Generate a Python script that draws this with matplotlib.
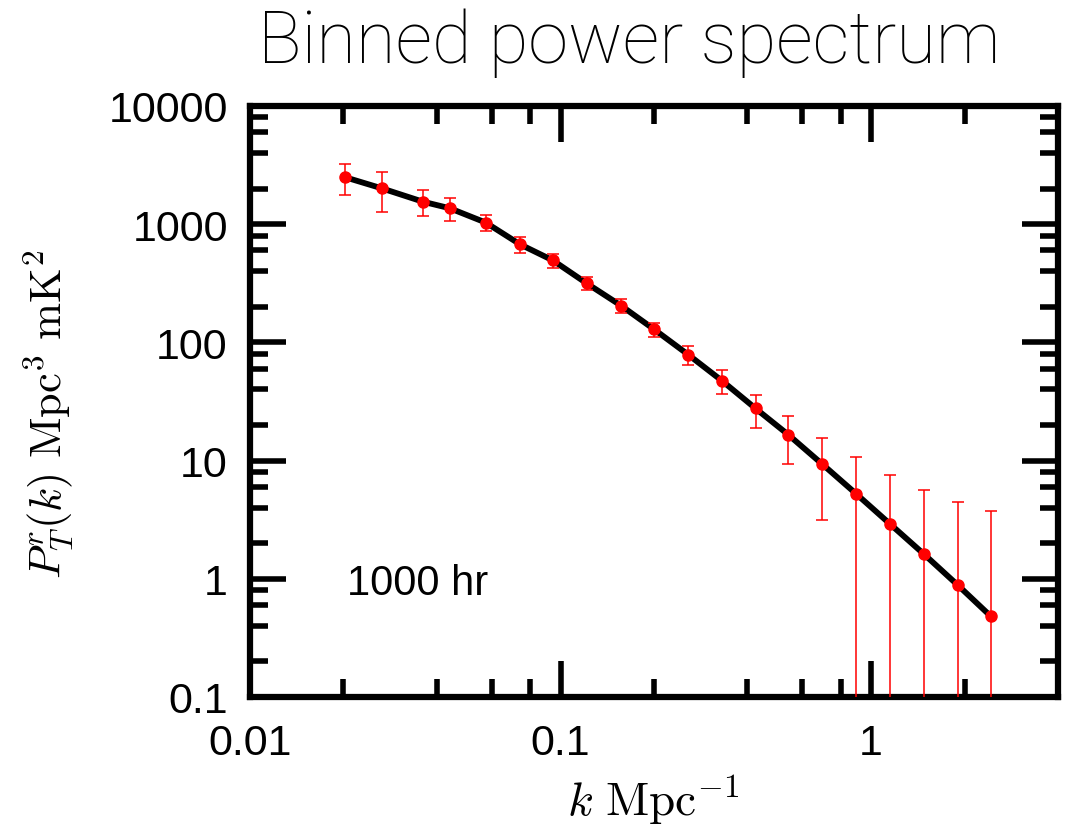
import matplotlib
matplotlib.use("Agg")
import matplotlib.pyplot as plt
from matplotlib.ticker import LogLocator, FixedLocator, NullFormatter, FixedFormatter

k = [0.0202, 0.0266, 0.0360, 0.0440, 0.0574, 0.0741, 0.0945, 0.1214, 0.1565,
     0.2001, 0.2577, 0.3313, 0.4248, 0.5408, 0.6966, 0.8951, 1.151, 1.479,
     1.900, 2.430]
power = [2500, 2009, 1552, 1364, 1033, 675, 494, 316, 205, 129, 78.8, 47.3,
         27.6, 16.6, 9.33, 5.24, 2.91, 1.62, 0.887, 0.482]
err = [720, 750, 390, 300, 165, 105, 68, 39, 27, 18, 14.6, 11, 8.6, 7.3, 6.2,
       5.4, 4.68, 4.0, 3.58, 3.25]

xticks = [0.01, 0.1, 1]
xticklabels = ["0.01", "0.1", "1"]
yticks = [0.1, 1, 10, 100, 1000, 10000]
yticklabels = ["0.1", "1", "10", "100", "1000", "10000"]

plt.rcParams['mathtext.fontset'] = 'cm'
plt.rcParams['font.family'] = ['Liberation Sans', 'DejaVu Sans']

fig = plt.figure(figsize=(10.88, 8.28), dpi=100)
ax = fig.add_axes([250/1088, 1-698/828, (1058-250)/1088, (698-107)/828])

ax.set_xscale('log')
ax.set_yscale('log')
ax.set_xlim(0.01, 4)
ax.set_ylim(0.1, 10000)

ax.plot(k, power, color='black', lw=4.2, zorder=2)
ax.errorbar(k, power, yerr=err, fmt='o', color='red', ecolor='red',
            markersize=8, elinewidth=1.1, capsize=4, capthick=1.1, zorder=3)

ax.xaxis.set_major_locator(FixedLocator(xticks))
ax.xaxis.set_major_formatter(FixedFormatter(xticklabels))
ax.yaxis.set_major_locator(FixedLocator(yticks))
ax.yaxis.set_major_formatter(FixedFormatter(yticklabels))
ax.xaxis.set_minor_locator(LogLocator(base=10, subs=(2, 4, 6, 8)))
ax.yaxis.set_minor_locator(LogLocator(base=10, subs=(2, 4, 6, 8)))
ax.xaxis.set_minor_formatter(NullFormatter())
ax.yaxis.set_minor_formatter(NullFormatter())

ax.tick_params(which='both', direction='in', top=True, right=True, width=4,
               color='black')
ax.tick_params(which='major', length=26, labelsize=31)
ax.tick_params(axis='x', which='major', pad=19)
ax.tick_params(axis='y', which='major', pad=16)
ax.tick_params(which='minor', length=13)
for s in ax.spines.values():
    s.set_linewidth(4.5)

ax.text(347/1088, 1-595/828, "1000 hr", transform=fig.transFigure,
        fontsize=30, ha='left', va='baseline')

fig.text(629.5/1088, 1-63/828, "Binned power spectrum", fontsize=52,
         family=['Roboto', 'DejaVu Sans'], fontweight='light',
         ha='center', va='baseline')

fig.text(48/1088, 1-414/828, r"$P_T^r(k)\ \mathrm{Mpc}^3\ \mathrm{mK}^2$",
         fontsize=32, rotation=90, ha='center', va='center')
fig.text(653/1088, 1-816/828, r"$k\ \mathrm{Mpc}^{-1}$", fontsize=34,
         ha='center', va='baseline')

fig.savefig("out.png", dpi=100)
